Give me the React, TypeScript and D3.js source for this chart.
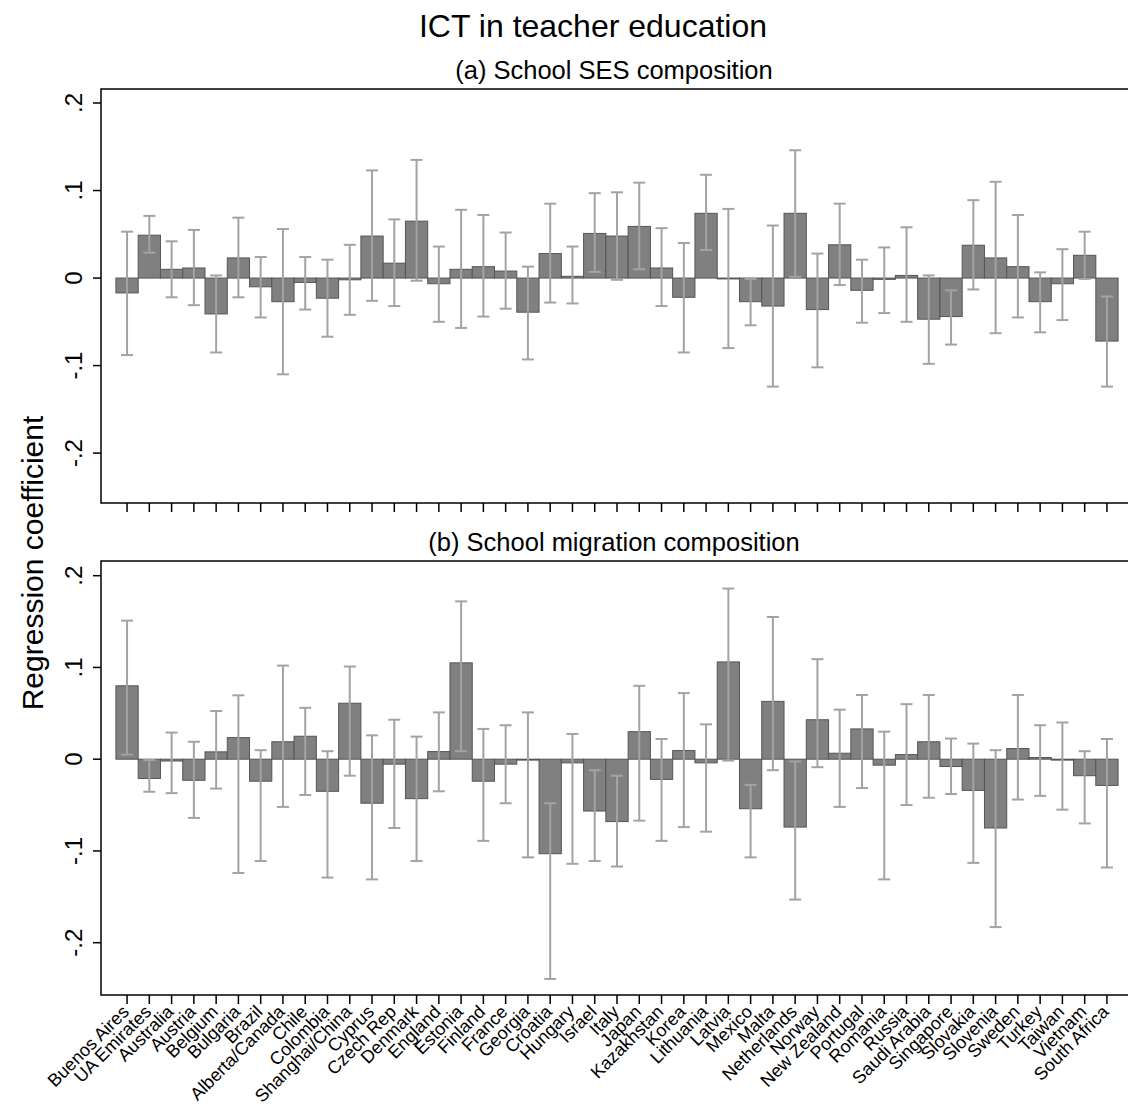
import * as d3 from "d3";

const countries = [
  "Buenos Aires", "UA Emirates", "Australia", "Austria", "Belgium", "Bulgaria",
  "Brazil", "Alberta/Canada", "Chile", "Colombia", "Shanghai/China", "Cyprus",
  "Czech Rep", "Denmark", "England", "Estonia", "Finland", "France", "Georgia",
  "Croatia", "Hungary", "Israel", "Italy", "Japan", "Kazakhstan", "Korea",
  "Lithuania", "Latvia", "Mexico", "Malta", "Netherlands", "Norway",
  "New Zealand", "Portugal", "Romania", "Russia", "Saudi Arabia", "Singapore",
  "Slovakia", "Slovenia", "Sweden", "Turkey", "Taiwan", "Vietnam", "South Africa",
];

// (a) School SES composition
const sesCoef = [
  -0.017, 0.049, 0.010, 0.0115, -0.041, 0.023, -0.010, -0.027, -0.005, -0.023,
  -0.002, 0.048, 0.017, 0.065, -0.0065, 0.010, 0.013, 0.008, -0.039, 0.028,
  0.002, 0.051, 0.048, 0.059, 0.0115, -0.022, 0.074, -0.001, -0.027, -0.032,
  0.074, -0.036, 0.038, -0.014, -0.0015, 0.003, -0.047, -0.044, 0.0375, 0.023,
  0.013, -0.027, -0.0065, 0.026, -0.072,
];
const sesHi = [
  0.053, 0.071, 0.042, 0.055, 0.003, 0.069, 0.024, 0.056, 0.024, 0.021,
  0.038, 0.123, 0.067, 0.135, 0.036, 0.078, 0.072, 0.052, 0.013, 0.085,
  0.036, 0.097, 0.098, 0.109, 0.057, 0.040, 0.118, 0.079, -0.001, 0.060,
  0.146, 0.028, 0.085, 0.021, 0.035, 0.058, 0.003, -0.014, 0.089, 0.110,
  0.072, 0.0065, 0.033, 0.053, -0.021,
];
const sesLo = [
  -0.088, 0.029, -0.022, -0.031, -0.085, -0.022, -0.045, -0.110, -0.036, -0.067,
  -0.042, -0.026, -0.032, -0.003, -0.050, -0.057, -0.044, -0.035, -0.093, -0.028,
  -0.029, 0.007, -0.002, 0.010, -0.032, -0.085, 0.032, -0.080, -0.054, -0.124,
  0.0015, -0.102, -0.008, -0.051, -0.040, -0.050, -0.098, -0.076, -0.013, -0.063,
  -0.045, -0.062, -0.048, -0.001, -0.124,
];

// (b) School migration composition
const migCoef = [
  0.080, -0.021, -0.002, -0.023, 0.008, 0.0235, -0.024, 0.019, 0.025, -0.035,
  0.061, -0.048, -0.0054, -0.043, 0.0083, 0.105, -0.024, -0.0054, -0.001, -0.103,
  -0.004, -0.0565, -0.068, 0.030, -0.022, 0.0094, -0.004, 0.106, -0.054, 0.063,
  -0.074, 0.043, 0.0065, 0.033, -0.0065, 0.005, 0.019, -0.008, -0.034, -0.075,
  0.0116, 0.0018, -0.001, -0.018, -0.0286,
];
const migHi = [
  0.151, -0.001, 0.029, 0.019, 0.0525, 0.0696, 0.0098, 0.102, 0.056, 0.0087,
  0.101, 0.026, 0.043, 0.0246, 0.051, 0.172, 0.033, 0.037, 0.051, -0.048,
  0.0275, -0.012, -0.018, 0.080, 0.022, 0.072, 0.038, 0.186, -0.028, 0.155,
  -0.0025, 0.109, 0.054, 0.070, 0.030, 0.060, 0.070, 0.0225, 0.017, 0.0098,
  0.070, 0.037, 0.040, 0.0087, 0.022,
];
const migLo = [
  0.005, -0.0355, -0.037, -0.064, -0.032, -0.124, -0.111, -0.052, -0.039, -0.129,
  -0.018, -0.131, -0.075, -0.111, -0.035, 0.0087, -0.089, -0.048, -0.107, -0.2395,
  -0.114, -0.111, -0.117, -0.067, -0.089, -0.074, -0.079, -0.0015, -0.107, -0.012,
  -0.153, -0.0087, -0.052, -0.0315, -0.131, -0.050, -0.042, -0.038, -0.113, -0.183,
  -0.044, -0.040, -0.055, -0.070, -0.118,
];

const yTicks = [0.2, 0.1, 0, -0.1, -0.2];
const yTickLabels = [".2", ".1", "0", "-.1", "-.2"];
const yDomain: [number, number] = [-0.257, 0.216];

const font = "'Liberation Sans', Arial, Helvetica, sans-serif";
const left = 101;
const right = 1133;

const x = d3
  .scaleBand<string>()
  .domain(countries)
  .range([left, right])
  .paddingInner(0)
  .paddingOuter(0.67);

const Panel = ({ top, bottom, title, coef, hi, lo }) => {
  const y = d3.scaleLinear().domain(yDomain).range([bottom, top]);
  const bw = x.bandwidth();
  return (
    <g>
      <text
        x={614}
        y={top - 10}
        textAnchor="middle"
        fontSize={25.5}
        fontFamily={font}
      >
        {title}
      </text>
      {countries.map((c, i) => {
        const x0 = x(c)!;
        const y0 = y(0);
        const y1 = y(coef[i]);
        return (
          <rect
            key={c}
            x={x0}
            y={Math.min(y0, y1)}
            width={bw}
            height={Math.max(Math.abs(y1 - y0), 0.5)}
            fill="#808080"
            stroke="#555555"
            strokeWidth={1}
          />
        );
      })}
      {countries.map((c, i) => {
        const cx = x(c)! + bw / 2;
        return (
          <g key={c} stroke="#a3a3a3" strokeWidth={2}>
            <line x1={cx} x2={cx} y1={y(hi[i])} y2={y(lo[i])} />
            <line x1={cx - 6} x2={cx + 6} y1={y(hi[i])} y2={y(hi[i])} />
            <line x1={cx - 6} x2={cx + 6} y1={y(lo[i])} y2={y(lo[i])} />
          </g>
        );
      })}
      <rect
        x={left}
        y={top}
        width={right - left}
        height={bottom - top}
        fill="none"
        stroke="#000"
        strokeWidth={1.5}
      />
      {yTicks.map((t, i) => (
        <g key={t}>
          <line x1={left - 8} x2={left} y1={y(t)} y2={y(t)} stroke="#000" strokeWidth={1.5} />
          <text
            transform={`translate(${left - 19},${y(t)}) rotate(-90)`}
            textAnchor="middle"
            fontSize={24}
            fontFamily={font}
          >
            {yTickLabels[i]}
          </text>
        </g>
      ))}
      {countries.map((c) => {
        const cx = x(c)! + bw / 2;
        return (
          <line key={c} x1={cx} x2={cx} y1={bottom} y2={bottom + 9} stroke="#000" strokeWidth={1.5} />
        );
      })}
    </g>
  );
};

export default function App() {
  const bw = x.bandwidth();
  return (
    <svg
      width={1128}
      height={1108}
      style={{ position: "absolute", left: 0, top: 0, background: "#fff" }}
    >
      <rect width={1128} height={1108} fill="#fff" />
      <text x={593} y={37} textAnchor="middle" fontSize={32} fontFamily={font}>
        ICT in teacher education
      </text>
      <text
        transform="translate(43,563) rotate(-90)"
        textAnchor="middle"
        fontSize={30}
        fontFamily={font}
      >
        Regression coefficient
      </text>
      <Panel
        top={89}
        bottom={503}
        title="(a) School SES composition"
        coef={sesCoef}
        hi={sesHi}
        lo={sesLo}
      />
      <Panel
        top={561}
        bottom={995}
        title="(b) School migration composition"
        coef={migCoef}
        hi={migHi}
        lo={migLo}
      />
      {countries.map((c) => {
        const cx = x(c)! + bw / 2;
        return (
          <text
            key={c}
            transform={`translate(${cx + 3},${1013}) rotate(-45)`}
            textAnchor="end"
            fontSize={18}
            fontFamily={font}
          >
            {c}
          </text>
        );
      })}
    </svg>
  );
}
